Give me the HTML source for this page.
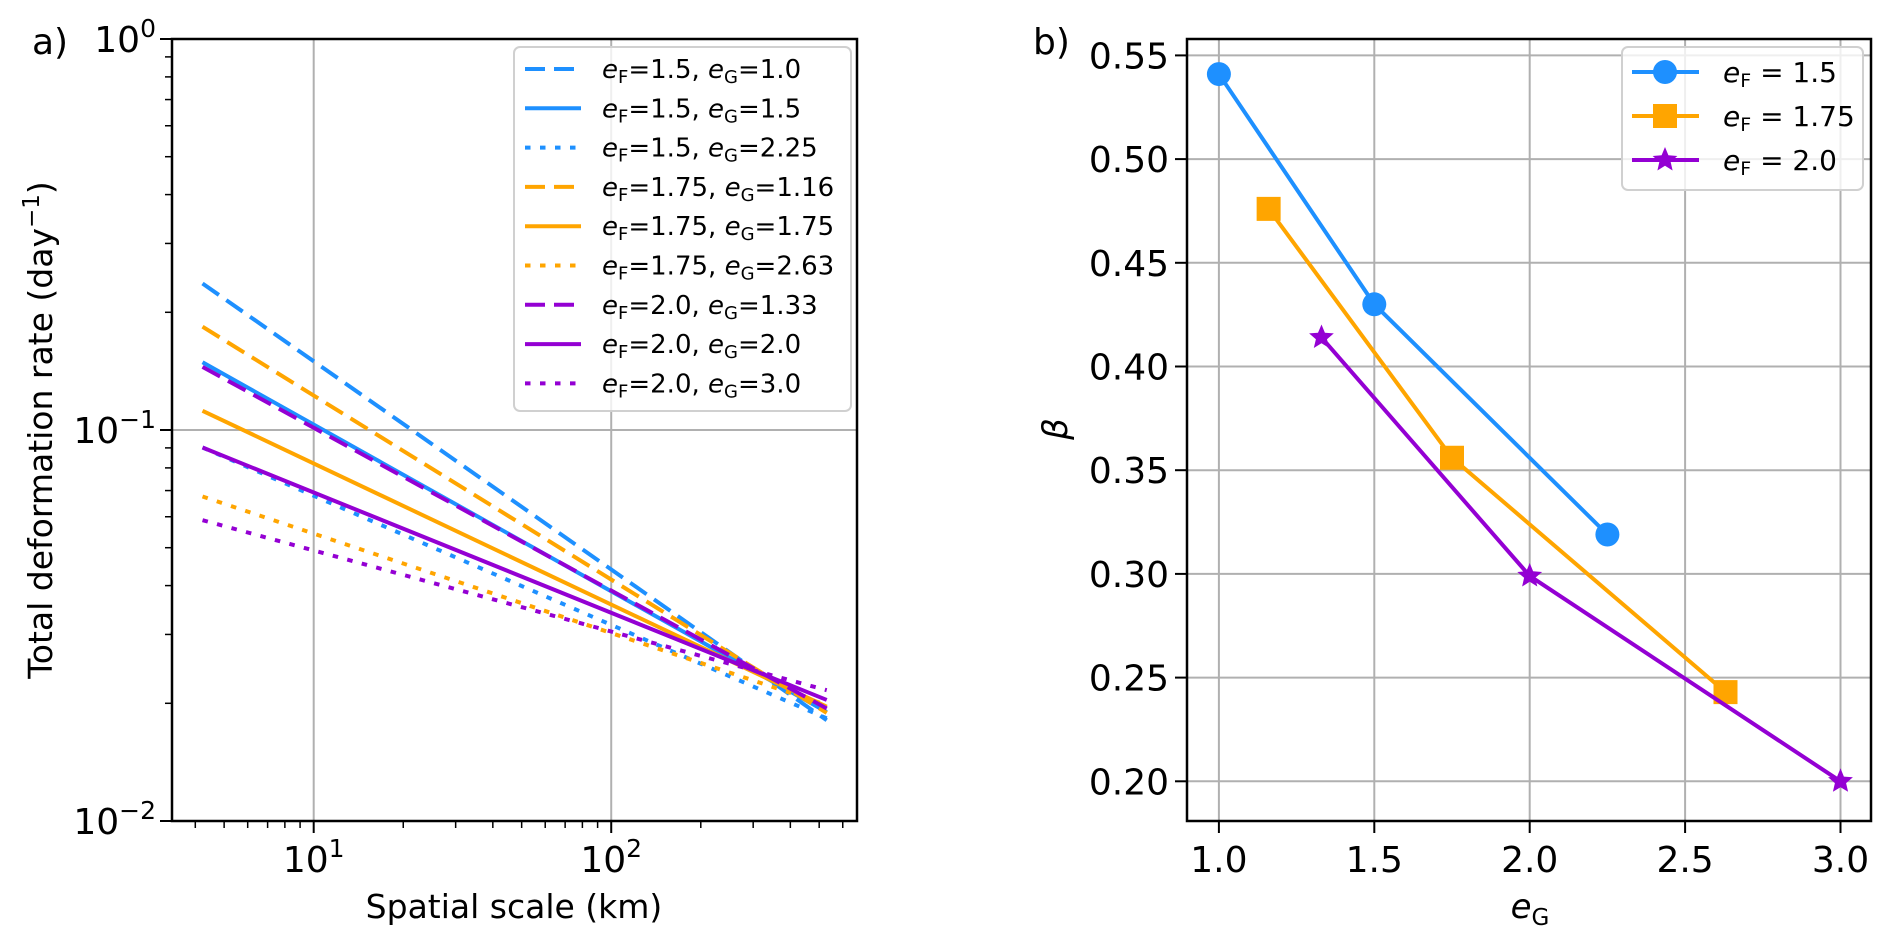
<!DOCTYPE html>
<html><head><meta charset="utf-8">
<style>
html,body{margin:0;padding:0;background:#fff;}
svg{display:block;font-family:"DejaVu Sans","Liberation Sans",sans-serif;}
</style></head>
<body>
<svg id="fig" width="1892" height="942" viewBox="0 0 1892 942" xmlns="http://www.w3.org/2000/svg"></svg>
<script>
// ---- Panel a data ----
const aLabelsF = ["1.5","1.5","1.5","1.75","1.75","1.75","2.0","2.0","2.0"];
const aLabelsG = ["1.0","1.5","2.25","1.16","1.75","2.63","1.33","2.0","3.0"];
const aColors = ["#1E90FF","#1E90FF","#1E90FF","#FFA500","#FFA500","#FFA500","#9400D3","#9400D3","#9400D3"];
const aStyles = ["dashed","solid","dotted","dashed","solid","dotted","dashed","solid","dotted"];
const aScaleStart = 4.23;
const aScaleEnd = 530;
const aRateStart = [0.237,0.149,0.0902,0.1837,0.112,0.0676,0.145,0.0902,0.0588];
const aRateEnd = [0.0181,0.0190,0.0183,0.0189,0.0196,0.0198,0.0194,0.0204,0.0216];
const aXTicks = [10,100];
const aXTickExp = ["1","2"];
const aYTicks = [0.01,0.1,1];
const aYTickExp = ["\u22122","\u22121","0"];
// ---- Panel b data ----
const bEG1 = [1.0,1.5,2.25];   const bBeta1 = [0.541,0.430,0.319];
const bEG2 = [1.16,1.75,2.63]; const bBeta2 = [0.476,0.356,0.243];
const bEG3 = [1.33,2.0,3.0];   const bBeta3 = [0.414,0.299,0.200];
const bXTicks = [1.0,1.5,2.0,2.5,3.0];
const bYTicks = [0.20,0.25,0.30,0.35,0.40,0.45,0.50,0.55];
const bLegend = ["1.5","1.75","2.0"];

const NS="http://www.w3.org/2000/svg";
const svg=document.getElementById('fig');
function mk(tag,attrs,parent){const e=document.createElementNS(NS,tag);for(const k in attrs)e.setAttribute(k,attrs[k]);(parent||svg).appendChild(e);return e;}

const A={l:172,r:857,t:39,b:821};
const aXmin=Math.log10(3.34), aXmax=Math.log10(670);
function ax(v){return A.l+(Math.log10(v)-aXmin)/(aXmax-aXmin)*(A.r-A.l);}
function ay(v){return A.t+(0-Math.log10(v))/2*(A.b-A.t);}
const B={l:1187,r:1871,t:39,b:821};
function bx(v){return 1218.9+(v-1)*310.8;}
function by(v){return 55.4+(0.55-v)*2074;}

const dash={dashed:"20 9",solid:"",dotted:"5.5 9.5"};
const TF=36;

// ----- Panel a -----
const ga=mk('g',{});


aXTicks.forEach(v=>{const l=mk('line',{x1:ax(v),x2:ax(v),y1:A.t,y2:A.b,stroke:'#b0b0b0','stroke-width':2},ga);});
[0.1].forEach(v=>{const l=mk('line',{x1:A.l,x2:A.r,y1:ay(v),y2:ay(v),stroke:'#b0b0b0','stroke-width':2},ga);});
for(let i=0;i<aRateStart.length;i++){
  const l=mk('line',{x1:ax(aScaleStart),y1:ay(aRateStart[i]),x2:ax(aScaleEnd),y2:ay(aRateEnd[i]),stroke:aColors[i],'stroke-width':4,'stroke-dasharray':dash[aStyles[i]],'stroke-linecap':'butt'},ga);
  
  
}
const sa=mk('rect',{x:A.l,y:A.t,width:A.r-A.l,height:A.b-A.t,fill:'none',stroke:'#000','stroke-width':2.5},ga);

aXTicks.forEach((v,i)=>{
  mk('line',{x1:ax(v),x2:ax(v),y1:A.b,y2:A.b+12,stroke:'#000','stroke-width':2},ga);
  const t=mk('text',{x:ax(v),y:872,'font-size':TF,'text-anchor':'middle'},ga);
  
  t.innerHTML='10<tspan dy="-15" font-size="25">'+aXTickExp[i]+'</tspan>';
});
aYTicks.forEach((v,i)=>{
  mk('line',{x1:A.l-12,x2:A.l,y1:ay(v),y2:ay(v),stroke:'#000','stroke-width':2},ga);
  const t=mk('text',{x:A.l-16,y:ay(v)+13,'font-size':TF,'text-anchor':'end'},ga);
  
  t.innerHTML='10<tspan dy="-15" font-size="25">'+aYTickExp[i]+'</tspan>';
});
[1,10,100].forEach(d=>{for(let k=2;k<10;k++){const v=d*k;if(v<3.34||v>670)continue;mk('line',{x1:ax(v),x2:ax(v),y1:A.b,y2:A.b+7,stroke:'#000','stroke-width':1.5},ga);}});
[0.01,0.1].forEach(d=>{for(let k=2;k<10;k++){const v=d*k;mk('line',{x1:A.l-7,x2:A.l,y1:ay(v),y2:ay(v),stroke:'#000','stroke-width':1.5},ga);}});
const axl=mk('text',{x:514,y:918,'font-size':33,'text-anchor':'middle'},ga);

axl.textContent='Spatial scale (km)';
const ayl=mk('text',{x:0,y:0,'font-size':33,'text-anchor':'middle',transform:'translate(52,430) rotate(-90)'},ga);

ayl.innerHTML='Total deformation rate (day<tspan dy="-13" font-size="23">\u22121</tspan><tspan dy="13">)</tspan>';
const pa=mk('text',{x:32,y:54,'font-size':36},ga);

pa.textContent='a)';
const la=mk('g',{},ga);

mk('rect',{x:514,y:47,width:337,height:364,rx:6,fill:'rgba(255,255,255,0.8)',stroke:'#d0d0d0','stroke-width':2},la);
for(let i=0;i<aLabelsF.length;i++){
  const y=69+i*39.3;
  const e=mk('g',{},la);
  
  mk('line',{x1:525,x2:581,y1:y,y2:y,stroke:aColors[i],'stroke-width':4,'stroke-dasharray':dash[aStyles[i]]},e);
  const t=mk('text',{x:602,y:y+9,'font-size':26},e);
  t.innerHTML='<tspan font-style="italic">e</tspan><tspan font-size="18" dy="5">F</tspan><tspan dy="-5">='+aLabelsF[i]+', </tspan><tspan font-style="italic">e</tspan><tspan font-size="18" dy="5">G</tspan><tspan dy="-5">='+aLabelsG[i]+'</tspan>';
}

// ----- Panel b -----
const gb=mk('g',{});

bXTicks.forEach(v=>{const l=mk('line',{x1:bx(v),x2:bx(v),y1:B.t,y2:B.b,stroke:'#b0b0b0','stroke-width':2},gb);});
bYTicks.forEach(v=>{const l=mk('line',{x1:B.l,x2:B.r,y1:by(v),y2:by(v),stroke:'#b0b0b0','stroke-width':2},gb);});
function star(cx,cy,R,col,parent){let p='';for(let k=0;k<10;k++){const r=k%2?R*0.45:R;const a=-Math.PI/2+k*Math.PI/5;p+=(k?'L':'M')+(cx+r*Math.cos(a)).toFixed(1)+','+(cy+r*Math.sin(a)).toFixed(1);}return mk('path',{d:p+'Z',fill:col},parent);}
function marker(type,cx,cy,col,parent){
  if(type==='circle')return mk('circle',{cx:cx,cy:cy,r:12,fill:col},parent);
  if(type==='square')return mk('rect',{x:cx-12,y:cy-12,width:24,height:24,fill:col},parent);
  return star(cx,cy,13,col,parent);
}
const bSeries=[[bEG1,bBeta1,'#1E90FF','circle'],[bEG2,bBeta2,'#FFA500','square'],[bEG3,bBeta3,'#9400D3','star']];
bSeries.forEach((s,si)=>{
  const g=mk('g',{},gb);
  
  const pts=s[0].map((x,i)=>bx(x)+','+by(s[1][i])).join(' ');
  mk('polyline',{points:pts,fill:'none',stroke:s[2],'stroke-width':4},g);
  s[0].forEach((x,i)=>{const m=marker(s[3],bx(x),by(s[1][i]),s[2],g);});
});
const sb=mk('rect',{x:B.l,y:B.t,width:B.r-B.l,height:B.b-B.t,fill:'none',stroke:'#000','stroke-width':2.5},gb);

bXTicks.forEach(v=>{
  mk('line',{x1:bx(v),x2:bx(v),y1:B.b,y2:B.b+12,stroke:'#000','stroke-width':2},gb);
  const t=mk('text',{x:bx(v),y:872,'font-size':TF,'text-anchor':'middle'},gb);
  
  t.textContent=v.toFixed(1);
});
bYTicks.forEach(v=>{
  mk('line',{x1:B.l-12,x2:B.l,y1:by(v),y2:by(v),stroke:'#000','stroke-width':2},gb);
  const t=mk('text',{x:B.l-18,y:by(v)+13,'font-size':TF,'text-anchor':'end'},gb);
  
  t.textContent=v.toFixed(2);
});
const bxl=mk('text',{x:1530,y:918,'font-size':34,'text-anchor':'middle'},gb);

bxl.innerHTML='<tspan font-style="italic">e</tspan><tspan font-size="23" dy="7">G</tspan>';
const byl=mk('text',{x:0,y:0,'font-size':34,'font-style':'italic','text-anchor':'middle',transform:'translate(1067,429) rotate(-90)'},gb);

byl.textContent='\u03B2';
const pb=mk('text',{x:1033,y:54,'font-size':36},gb);

pb.textContent='b)';
const lb=mk('g',{},gb);

mk('rect',{x:1622,y:47,width:241,height:143,rx:6,fill:'rgba(255,255,255,0.8)',stroke:'#d0d0d0','stroke-width':2},lb);
bSeries.forEach((s,i)=>{
  const y=72+i*44;
  const e=mk('g',{},lb);
  
  mk('line',{x1:1632,x2:1699,y1:y,y2:y,stroke:s[2],'stroke-width':4},e);
  marker(s[3],1665,y,s[2],e);
  const t=mk('text',{x:1723,y:y+10,'font-size':28},e);
  t.innerHTML='<tspan font-style="italic">e</tspan><tspan font-size="19" dy="5">F</tspan><tspan dy="-5"> = '+bLegend[i]+'</tspan>';
});
</script>
</body></html>
